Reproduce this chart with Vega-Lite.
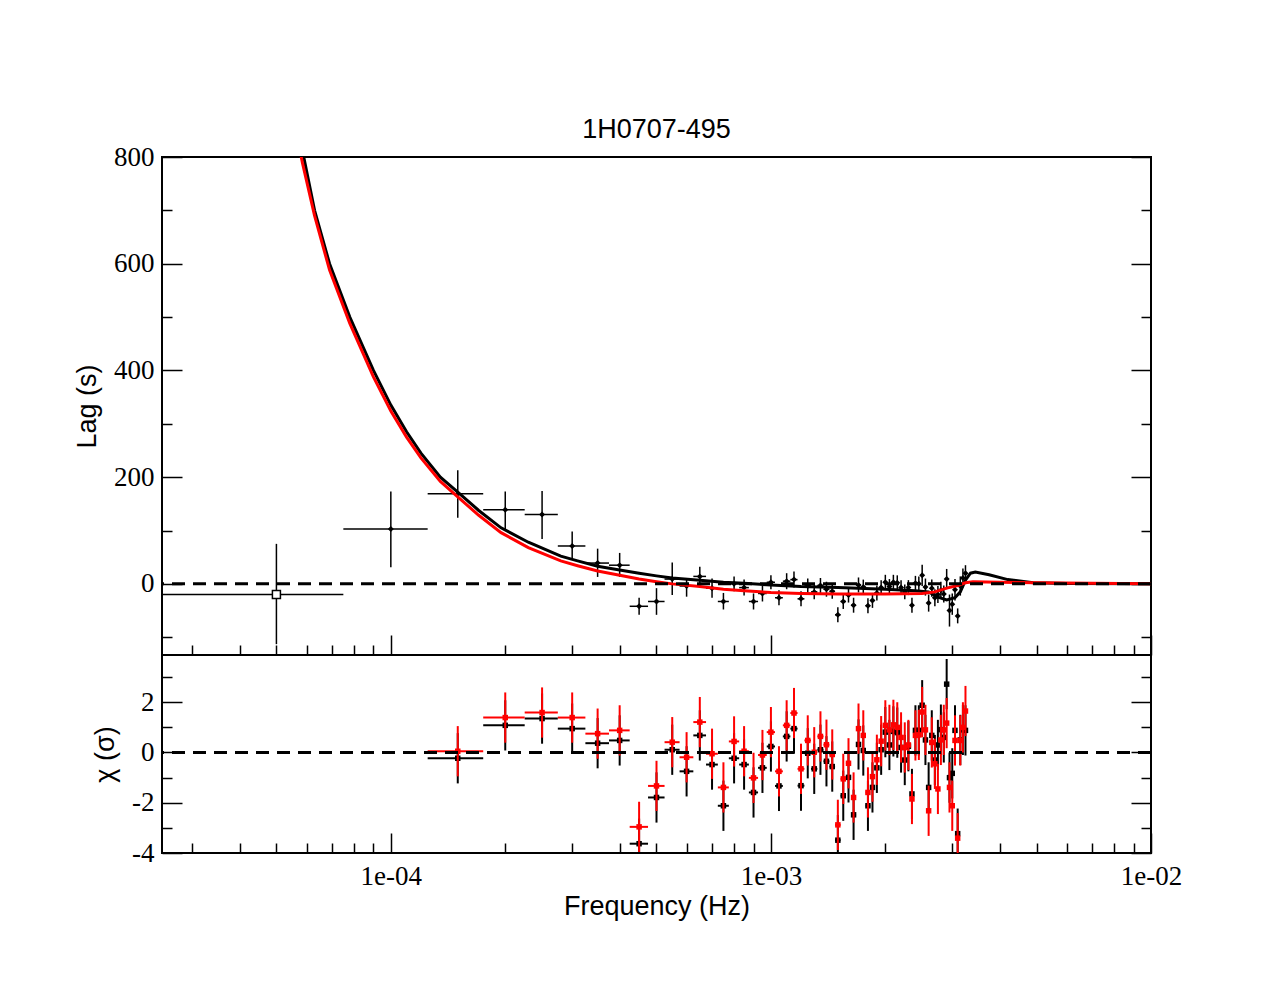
{
  "$schema": "https://vega.github.io/schema/vega-lite/v6.json",
  "background": "white",
  "padding": {"left": 72, "top": 116, "right": 97, "bottom": 60},
  "title": {"text": "1H0707-495", "font": "Liberation Sans", "fontSize": 27, "fontWeight": "normal", "color": "black", "offset": -2, "anchor": "middle", "frame": "group"},
  "spacing": 0,
  "bounds": "flush",
  "config": {
    "view": {"stroke": "black", "strokeWidth": 2},
    "axis": {"domain": false, "grid": false, "tickColor": "black", "tickWidth": 1.5, "labelColor": "black", "titleColor": "black", "labelFont": "Liberation Serif", "labelFontSize": 27, "titleFont": "Liberation Sans", "titleFontSize": 27, "titleFontWeight": "normal", "labelFlush": false, "labelOverlap": false, "labelBound": false}
  },
  "datasets": {
    "lag": [
      {"f":0.00005,"flo":0.000025,"fhi":0.000075,"lag":-20,"lo":-113,"hi":75},
      {"f":0.0001,"flo":0.000075,"fhi":0.000125,"lag":103,"lo":31,"hi":173},
      {"f":0.00015,"flo":0.000125,"fhi":0.000175,"lag":169,"lo":124,"hi":213},
      {"f":0.0002,"flo":0.000175,"fhi":0.000225,"lag":139,"lo":103,"hi":173},
      {"f":0.00025,"flo":0.000225,"fhi":0.000275,"lag":130,"lo":84,"hi":174},
      {"f":0.0003,"flo":0.000275,"fhi":0.000325,"lag":71,"lo":45,"hi":98},
      {"f":0.00035,"flo":0.000325,"fhi":0.000375,"lag":39,"lo":13,"hi":66},
      {"f":0.0004,"flo":0.000375,"fhi":0.000425,"lag":35,"lo":13,"hi":58},
      {"f":0.00045,"flo":0.000425,"fhi":0.000475,"lag":-42,"lo":-58,"hi":-26},
      {"f":0.0005,"flo":0.000475,"fhi":0.000525,"lag":-33,"lo":-58,"hi":-8},
      {"f":0.00055,"flo":0.000525,"fhi":0.000575,"lag":9,"lo":-21,"hi":40},
      {"f":0.0006,"flo":0.000575,"fhi":0.000625,"lag":-4,"lo":-24,"hi":10},
      {"f":0.00065,"flo":0.000625,"fhi":0.000675,"lag":14,"lo":-3,"hi":32},
      {"f":0.0007,"flo":0.000675,"fhi":0.000725,"lag":-8,"lo":-26,"hi":10},
      {"f":0.00075,"flo":0.000725,"fhi":0.000775,"lag":-33,"lo":-48,"hi":-17},
      {"f":0.0008,"flo":0.000775,"fhi":0.000825,"lag":0,"lo":-14,"hi":14},
      {"f":0.00085,"flo":0.000825,"fhi":0.000875,"lag":-7,"lo":-22,"hi":8},
      {"f":0.0009,"flo":0.000875,"fhi":0.000925,"lag":-33,"lo":-48,"hi":-18},
      {"f":0.00095,"flo":0.000925,"fhi":0.000975,"lag":-18,"lo":-33,"hi":-3},
      {"f":0.001,"flo":0.000975,"fhi":0.001025,"lag":3,"lo":-10,"hi":16},
      {"f":0.00105,"flo":0.001025,"fhi":0.001075,"lag":-26,"lo":-40,"hi":-12},
      {"f":0.0011,"flo":0.001075,"fhi":0.001125,"lag":5,"lo":-10,"hi":20},
      {"f":0.00115,"flo":0.001125,"fhi":0.001175,"lag":8,"lo":-7,"hi":23},
      {"f":0.0012,"flo":0.001175,"fhi":0.001225,"lag":-28,"lo":-42,"hi":-14},
      {"f":0.00125,"flo":0.001225,"fhi":0.001275,"lag":-4,"lo":-18,"hi":10},
      {"f":0.0013,"flo":0.001275,"fhi":0.001325,"lag":-15,"lo":-29,"hi":-1},
      {"f":0.00135,"flo":0.001325,"fhi":0.001375,"lag":-3,"lo":-17,"hi":11},
      {"f":0.0014,"flo":0.001375,"fhi":0.001425,"lag":-10,"lo":-24,"hi":4},
      {"f":0.00145,"flo":0.001425,"fhi":0.001475,"lag":-14,"lo":-28,"hi":0},
      {"f":0.0015,"flo":0.001475,"fhi":0.001525,"lag":-58,"lo":-72,"hi":-44},
      {"f":0.00155,"flo":0.001525,"fhi":0.001575,"lag":-33,"lo":-47,"hi":-19},
      {"f":0.0016,"flo":0.001575,"fhi":0.001625,"lag":-21,"lo":-35,"hi":-7},
      {"f":0.00165,"flo":0.001625,"fhi":0.001675,"lag":-40,"lo":-54,"hi":-26},
      {"f":0.0017,"flo":0.001675,"fhi":0.001725,"lag":-2,"lo":-16,"hi":12},
      {"f":0.00175,"flo":0.001725,"fhi":0.001775,"lag":-6,"lo":-20,"hi":8},
      {"f":0.0018,"flo":0.001775,"fhi":0.001825,"lag":-41,"lo":-55,"hi":-27},
      {"f":0.00185,"flo":0.001825,"fhi":0.001875,"lag":-31,"lo":-45,"hi":-17},
      {"f":0.0019,"flo":0.001875,"fhi":0.001925,"lag":-17,"lo":-31,"hi":-3},
      {"f":0.00195,"flo":0.001925,"fhi":0.001975,"lag":-7,"lo":-21,"hi":7},
      {"f":0.002,"flo":0.001975,"fhi":0.002025,"lag":3,"lo":-11,"hi":17},
      {"f":0.00205,"flo":0.002025,"fhi":0.002075,"lag":-5,"lo":-19,"hi":9},
      {"f":0.0021,"flo":0.002075,"fhi":0.002125,"lag":3,"lo":-11,"hi":17},
      {"f":0.00215,"flo":0.002125,"fhi":0.002175,"lag":2,"lo":-12,"hi":16},
      {"f":0.0022,"flo":0.002175,"fhi":0.002225,"lag":-7,"lo":-21,"hi":7},
      {"f":0.00225,"flo":0.002225,"fhi":0.002275,"lag":-15,"lo":-29,"hi":-1},
      {"f":0.0023,"flo":0.002275,"fhi":0.002325,"lag":-7,"lo":-21,"hi":7},
      {"f":0.00235,"flo":0.002325,"fhi":0.002375,"lag":-40,"lo":-54,"hi":-26},
      {"f":0.0024,"flo":0.002375,"fhi":0.002425,"lag":1,"lo":-13,"hi":15},
      {"f":0.00245,"flo":0.002425,"fhi":0.002475,"lag":0,"lo":-14,"hi":14},
      {"f":0.0025,"flo":0.002475,"fhi":0.002525,"lag":16,"lo":-4,"hi":36},
      {"f":0.00255,"flo":0.002525,"fhi":0.002575,"lag":-6,"lo":-22,"hi":10},
      {"f":0.0026,"flo":0.002575,"fhi":0.002625,"lag":-36,"lo":-52,"hi":-20},
      {"f":0.00265,"flo":0.002625,"fhi":0.002675,"lag":-8,"lo":-24,"hi":8},
      {"f":0.0027,"flo":0.002675,"fhi":0.002725,"lag":-26,"lo":-42,"hi":-10},
      {"f":0.00275,"flo":0.002725,"fhi":0.002775,"lag":-20,"lo":-36,"hi":-4},
      {"f":0.0028,"flo":0.002775,"fhi":0.002825,"lag":-12,"lo":-28,"hi":4},
      {"f":0.00285,"flo":0.002825,"fhi":0.002875,"lag":-19,"lo":-35,"hi":-3},
      {"f":0.0029,"flo":0.002875,"fhi":0.002925,"lag":9,"lo":-10,"hi":28},
      {"f":0.00295,"flo":0.002925,"fhi":0.002975,"lag":-50,"lo":-80,"hi":-20},
      {"f":0.003,"flo":0.002975,"fhi":0.003025,"lag":-38,"lo":-58,"hi":-18},
      {"f":0.00305,"flo":0.003025,"fhi":0.003075,"lag":-11,"lo":-31,"hi":9},
      {"f":0.0031,"flo":0.003075,"fhi":0.003125,"lag":-60,"lo":-74,"hi":-46},
      {"f":0.00315,"flo":0.003125,"fhi":0.003175,"lag":-4,"lo":-22,"hi":14},
      {"f":0.0032,"flo":0.003175,"fhi":0.003225,"lag":11,"lo":-7,"hi":29},
      {"f":0.00325,"flo":0.003225,"fhi":0.003275,"lag":20,"lo":5,"hi":35}
    ],
    "model": [
      {"f":0.0000575,"lag":840,"m":"k"},{"f":0.000059,"lag":800,"m":"k"},{"f":0.000063,"lag":700,"m":"k"},{"f":0.000069,"lag":600,"m":"k"},
      {"f":0.000078,"lag":500,"m":"k"},{"f":0.00009,"lag":400,"m":"k"},{"f":0.0001,"lag":335,"m":"k"},{"f":0.00011,"lag":285,"m":"k"},
      {"f":0.00012,"lag":245,"m":"k"},{"f":0.000135,"lag":200,"m":"k"},{"f":0.00015,"lag":172,"m":"k"},{"f":0.00017,"lag":138,"m":"k"},
      {"f":0.000195,"lag":105,"m":"k"},{"f":0.00023,"lag":78,"m":"k"},{"f":0.00028,"lag":52,"m":"k"},{"f":0.00031,"lag":43,"m":"k"},
      {"f":0.00035,"lag":33,"m":"k"},{"f":0.0004,"lag":26,"m":"k"},{"f":0.00045,"lag":20,"m":"k"},{"f":0.0005,"lag":15,"m":"k"},
      {"f":0.00055,"lag":11,"m":"k"},{"f":0.00065,"lag":7,"m":"k"},{"f":0.00075,"lag":3,"m":"k"},{"f":0.00085,"lag":1,"m":"k"},
      {"f":0.001,"lag":-2,"m":"k"},{"f":0.0012,"lag":-5,"m":"k"},{"f":0.0015,"lag":-7,"m":"k"},{"f":0.002,"lag":-10,"m":"k"},
      {"f":0.0024,"lag":-13,"m":"k"},{"f":0.0026,"lag":-15,"m":"k"},{"f":0.00275,"lag":-25,"m":"k"},{"f":0.0029,"lag":-30,"m":"k"},
      {"f":0.00305,"lag":-26,"m":"k"},{"f":0.00315,"lag":-15,"m":"k"},{"f":0.00325,"lag":7,"m":"k"},{"f":0.00335,"lag":20,"m":"k"},
      {"f":0.00345,"lag":22,"m":"k"},{"f":0.00375,"lag":17,"m":"k"},{"f":0.0042,"lag":8,"m":"k"},{"f":0.0049,"lag":2,"m":"k"},
      {"f":0.006,"lag":0.5,"m":"k"},{"f":0.01,"lag":0,"m":"k"},
      {"f":0.000057,"lag":830,"m":"r"},{"f":0.0000585,"lag":790,"m":"r"},{"f":0.000063,"lag":690,"m":"r"},{"f":0.000069,"lag":588,"m":"r"},
      {"f":0.000078,"lag":488,"m":"r"},{"f":0.00009,"lag":388,"m":"r"},{"f":0.0001,"lag":324,"m":"r"},{"f":0.00011,"lag":275,"m":"r"},
      {"f":0.00012,"lag":236,"m":"r"},{"f":0.000135,"lag":192,"m":"r"},{"f":0.00015,"lag":163,"m":"r"},{"f":0.00017,"lag":129,"m":"r"},
      {"f":0.000195,"lag":96,"m":"r"},{"f":0.00023,"lag":68,"m":"r"},{"f":0.00028,"lag":43,"m":"r"},{"f":0.00031,"lag":34,"m":"r"},
      {"f":0.00035,"lag":24,"m":"r"},{"f":0.0004,"lag":16,"m":"r"},{"f":0.00045,"lag":9,"m":"r"},{"f":0.0005,"lag":4,"m":"r"},
      {"f":0.00055,"lag":0,"m":"r"},{"f":0.00065,"lag":-5,"m":"r"},{"f":0.00075,"lag":-10,"m":"r"},{"f":0.00085,"lag":-13,"m":"r"},
      {"f":0.001,"lag":-16,"m":"r"},{"f":0.0012,"lag":-18,"m":"r"},{"f":0.0015,"lag":-19,"m":"r"},{"f":0.002,"lag":-19,"m":"r"},
      {"f":0.0025,"lag":-18,"m":"r"},{"f":0.0027,"lag":-15,"m":"r"},{"f":0.0029,"lag":-8,"m":"r"},{"f":0.0031,"lag":-3,"m":"r"},
      {"f":0.00325,"lag":2,"m":"r"},{"f":0.0034,"lag":4,"m":"r"},{"f":0.004,"lag":3,"m":"r"},{"f":0.005,"lag":2,"m":"r"},
      {"f":0.007,"lag":1,"m":"r"},{"f":0.01,"lag":0,"m":"r"}
    ],
    "resid": [
      {"f":0.00015,"flo":0.000125,"fhi":0.000175,"cb":-0.23,"cbl":-1.23,"cbh":0.77,"cr":0.05,"crl":-0.95,"crh":1.05},
      {"f":0.0002,"flo":0.000175,"fhi":0.000225,"cb":1.08,"cbl":0.08,"cbh":2.08,"cr":1.39,"crl":0.39,"crh":2.39},
      {"f":0.00025,"flo":0.000225,"fhi":0.000275,"cb":1.35,"cbl":0.35,"cbh":2.35,"cr":1.59,"crl":0.59,"crh":2.59},
      {"f":0.0003,"flo":0.000275,"fhi":0.000325,"cb":0.95,"cbl":-0.05,"cbh":1.95,"cr":1.39,"crl":0.39,"crh":2.39},
      {"f":0.00035,"flo":0.000325,"fhi":0.000375,"cb":0.37,"cbl":-0.63,"cbh":1.37,"cr":0.75,"crl":-0.25,"crh":1.75},
      {"f":0.0004,"flo":0.000375,"fhi":0.000425,"cb":0.48,"cbl":-0.52,"cbh":1.48,"cr":0.88,"crl":-0.12,"crh":1.88},
      {"f":0.00045,"flo":0.000425,"fhi":0.000475,"cb":-3.63,"cbl":-4.63,"cbh":-2.63,"cr":-2.96,"crl":-3.96,"crh":-1.96},
      {"f":0.0005,"flo":0.000475,"fhi":0.000525,"cb":-1.79,"cbl":-2.79,"cbh":-0.79,"cr":-1.33,"crl":-2.33,"crh":-0.33},
      {"f":0.00055,"flo":0.000525,"fhi":0.000575,"cb":0.11,"cbl":-0.89,"cbh":1.11,"cr":0.41,"crl":-0.59,"crh":1.41},
      {"f":0.0006,"flo":0.000575,"fhi":0.000625,"cb":-0.75,"cbl":-1.75,"cbh":0.25,"cr":-0.19,"crl":-1.19,"crh":0.81},
      {"f":0.00065,"flo":0.000625,"fhi":0.000675,"cb":0.68,"cbl":-0.32,"cbh":1.68,"cr":1.21,"crl":0.21,"crh":2.21},
      {"f":0.0007,"flo":0.000675,"fhi":0.000725,"cb":-0.48,"cbl":-1.48,"cbh":0.52,"cr":-0.05,"crl":-1.05,"crh":0.95},
      {"f":0.00075,"flo":0.000725,"fhi":0.000775,"cb":-2.12,"cbl":-3.12,"cbh":-1.12,"cr":-1.39,"crl":-2.39,"crh":-0.39},
      {"f":0.0008,"flo":0.000775,"fhi":0.000825,"cb":-0.23,"cbl":-1.23,"cbh":0.77,"cr":0.44,"crl":-0.56,"crh":1.44},
      {"f":0.00085,"flo":0.000825,"fhi":0.000875,"cb":-0.48,"cbl":-1.48,"cbh":0.52,"cr":0.05,"crl":-0.95,"crh":1.05},
      {"f":0.0009,"flo":0.000875,"fhi":0.000925,"cb":-1.59,"cbl":-2.59,"cbh":-0.59,"cr":-1.01,"crl":-2.01,"crh":-0.01},
      {"f":0.00095,"flo":0.000925,"fhi":0.000975,"cb":-0.61,"cbl":-1.61,"cbh":0.39,"cr":-0.1,"crl":-1.1,"crh":0.9},
      {"f":0.001,"flo":0.000975,"fhi":0.001025,"cb":0.24,"cbl":-0.76,"cbh":1.24,"cr":0.81,"crl":-0.19,"crh":1.81},
      {"f":0.00105,"flo":0.001025,"fhi":0.001075,"cb":-1.33,"cbl":-2.33,"cbh":-0.33,"cr":-0.75,"crl":-1.75,"crh":0.25},
      {"f":0.0011,"flo":0.001075,"fhi":0.001125,"cb":0.64,"cbl":-0.36,"cbh":1.64,"cr":1.08,"crl":0.08,"crh":2.08},
      {"f":0.00115,"flo":0.001125,"fhi":0.001175,"cb":0.95,"cbl":-0.05,"cbh":1.95,"cr":1.57,"crl":0.57,"crh":2.57},
      {"f":0.0012,"flo":0.001175,"fhi":0.001225,"cb":-1.32,"cbl":-2.32,"cbh":-0.32,"cr":-0.65,"crl":-1.65,"crh":0.35},
      {"f":0.00125,"flo":0.001225,"fhi":0.001275,"cb":-0.03,"cbl":-1.03,"cbh":0.97,"cr":0.48,"crl":-0.52,"crh":1.48},
      {"f":0.0013,"flo":0.001275,"fhi":0.001325,"cb":-0.65,"cbl":-1.65,"cbh":0.35,"cr":0.01,"crl":-0.99,"crh":1.01},
      {"f":0.00135,"flo":0.001325,"fhi":0.001375,"cb":0.11,"cbl":-0.89,"cbh":1.11,"cr":0.64,"crl":-0.36,"crh":1.64},
      {"f":0.0014,"flo":0.001375,"fhi":0.001425,"cb":-0.35,"cbl":-1.35,"cbh":0.65,"cr":0.31,"crl":-0.69,"crh":1.31},
      {"f":0.00145,"flo":0.001425,"fhi":0.001475,"cb":-0.56,"cbl":-1.56,"cbh":0.44,"cr":-0.08,"crl":-1.08,"crh":0.92},
      {"f":0.0015,"flo":0.001475,"fhi":0.001525,"cb":-3.49,"cbl":-4.49,"cbh":-2.49,"cr":-2.88,"crl":-3.88,"crh":-1.88},
      {"f":0.00155,"flo":0.001525,"fhi":0.001575,"cb":-1.72,"cbl":-2.72,"cbh":-0.72,"cr":-1.05,"crl":-2.05,"crh":-0.05},
      {"f":0.0016,"flo":0.001575,"fhi":0.001625,"cb":-0.99,"cbl":-1.99,"cbh":0.01,"cr":-0.43,"crl":-1.43,"crh":0.57},
      {"f":0.00165,"flo":0.001625,"fhi":0.001675,"cb":-2.48,"cbl":-3.48,"cbh":-1.48,"cr":-1.79,"crl":-2.79,"crh":-0.79},
      {"f":0.0017,"flo":0.001675,"fhi":0.001725,"cb":0.32,"cbl":-0.68,"cbh":1.32,"cr":0.95,"crl":-0.05,"crh":1.95},
      {"f":0.00175,"flo":0.001725,"fhi":0.001775,"cb":0.08,"cbl":-0.92,"cbh":1.08,"cr":0.68,"crl":-0.32,"crh":1.68},
      {"f":0.0018,"flo":0.001775,"fhi":0.001825,"cb":-2.12,"cbl":-3.12,"cbh":-1.12,"cr":-1.59,"crl":-2.59,"crh":-0.59},
      {"f":0.00185,"flo":0.001825,"fhi":0.001875,"cb":-1.39,"cbl":-2.39,"cbh":-0.39,"cr":-0.96,"crl":-1.96,"crh":0.04},
      {"f":0.0019,"flo":0.001875,"fhi":0.001925,"cb":-0.61,"cbl":-1.61,"cbh":0.39,"cr":-0.29,"crl":-1.29,"crh":0.71},
      {"f":0.00195,"flo":0.001925,"fhi":0.001975,"cb":0.11,"cbl":-0.89,"cbh":1.11,"cr":0.45,"crl":-0.55,"crh":1.45},
      {"f":0.002,"flo":0.001975,"fhi":0.002025,"cb":0.81,"cbl":-0.19,"cbh":1.81,"cr":1.08,"crl":0.08,"crh":2.08},
      {"f":0.00205,"flo":0.002025,"fhi":0.002075,"cb":0.3,"cbl":-0.7,"cbh":1.3,"cr":0.9,"crl":-0.1,"crh":1.9},
      {"f":0.0021,"flo":0.002075,"fhi":0.002125,"cb":0.84,"cbl":-0.16,"cbh":1.84,"cr":1.1,"crl":0.1,"crh":2.1},
      {"f":0.00215,"flo":0.002125,"fhi":0.002175,"cb":0.79,"cbl":-0.21,"cbh":1.79,"cr":1.0,"crl":0.0,"crh":2.0},
      {"f":0.0022,"flo":0.002175,"fhi":0.002225,"cb":0.2,"cbl":-0.8,"cbh":1.2,"cr":0.6,"crl":-0.4,"crh":1.6},
      {"f":0.00225,"flo":0.002225,"fhi":0.002275,"cb":-0.3,"cbl":-1.3,"cbh":0.7,"cr":0.2,"crl":-0.8,"crh":1.2},
      {"f":0.0023,"flo":0.002275,"fhi":0.002325,"cb":0.25,"cbl":-0.75,"cbh":1.25,"cr":0.3,"crl":-0.7,"crh":1.3},
      {"f":0.00235,"flo":0.002325,"fhi":0.002375,"cb":-1.65,"cbl":-2.65,"cbh":-0.65,"cr":-1.85,"crl":-2.85,"crh":-0.85},
      {"f":0.0024,"flo":0.002375,"fhi":0.002425,"cb":0.88,"cbl":-0.12,"cbh":1.88,"cr":0.68,"crl":-0.32,"crh":1.68},
      {"f":0.00245,"flo":0.002425,"fhi":0.002475,"cb":0.88,"cbl":-0.12,"cbh":1.88,"cr":0.7,"crl":-0.3,"crh":1.7},
      {"f":0.0025,"flo":0.002475,"fhi":0.002525,"cb":1.88,"cbl":0.88,"cbh":2.88,"cr":1.61,"crl":0.61,"crh":2.61},
      {"f":0.00255,"flo":0.002525,"fhi":0.002575,"cb":0.5,"cbl":-0.5,"cbh":1.5,"cr":0.9,"crl":-0.1,"crh":1.9},
      {"f":0.0026,"flo":0.002575,"fhi":0.002625,"cb":-1.39,"cbl":-2.39,"cbh":-0.39,"cr":-2.32,"crl":-3.32,"crh":-1.32},
      {"f":0.00265,"flo":0.002625,"fhi":0.002675,"cb":0.68,"cbl":-0.32,"cbh":1.68,"cr":0.4,"crl":-0.6,"crh":1.4},
      {"f":0.0027,"flo":0.002675,"fhi":0.002725,"cb":-0.3,"cbl":-1.3,"cbh":0.7,"cr":-0.45,"crl":-1.45,"crh":0.55},
      {"f":0.00275,"flo":0.002725,"fhi":0.002775,"cb":0.3,"cbl":-0.7,"cbh":1.3,"cr":-1.45,"crl":-2.45,"crh":-0.45},
      {"f":0.0028,"flo":0.002775,"fhi":0.002825,"cb":0.91,"cbl":-0.09,"cbh":1.91,"cr":0.5,"crl":-0.5,"crh":1.5},
      {"f":0.00285,"flo":0.002825,"fhi":0.002875,"cb":0.6,"cbl":-0.4,"cbh":1.6,"cr":0.9,"crl":-0.1,"crh":1.9},
      {"f":0.0029,"flo":0.002875,"fhi":0.002925,"cb":2.72,"cbl":1.72,"cbh":3.72,"cr":1.17,"crl":0.17,"crh":2.17},
      {"f":0.00295,"flo":0.002925,"fhi":0.002975,"cb":-1.0,"cbl":-2.0,"cbh":0.0,"cr":-1.39,"crl":-2.39,"crh":-0.39},
      {"f":0.003,"flo":0.002975,"fhi":0.003025,"cb":-0.83,"cbl":-1.83,"cbh":0.17,"cr":-2.12,"crl":-3.12,"crh":-1.12},
      {"f":0.00305,"flo":0.003025,"fhi":0.003075,"cb":0.88,"cbl":-0.12,"cbh":1.88,"cr":0.48,"crl":-0.52,"crh":1.48},
      {"f":0.0031,"flo":0.003075,"fhi":0.003125,"cb":-3.23,"cbl":-4.23,"cbh":-2.23,"cr":-3.41,"crl":-4.41,"crh":-2.41},
      {"f":0.00315,"flo":0.003125,"fhi":0.003175,"cb":0.5,"cbl":-0.5,"cbh":1.5,"cr":0.48,"crl":-0.52,"crh":1.48},
      {"f":0.0032,"flo":0.003175,"fhi":0.003225,"cb":0.9,"cbl":-0.1,"cbh":1.9,"cr":1.0,"crl":0.0,"crh":2.0},
      {"f":0.00325,"flo":0.003225,"fhi":0.003275,"cb":0.88,"cbl":-0.12,"cbh":1.88,"cr":1.65,"crl":0.65,"crh":2.65}
    ]
  },
  "vconcat": [
    {
      "width": 989,
      "height": 498,
      "resolve": {"axis": {"x": "independent", "y": "independent"}},
      "layer": [
        {
          "data": {"name": "lag"},
          "mark": {"type": "rule", "color": "black", "strokeWidth": 1.5, "clip": true},
          "encoding": {
            "x": {"field": "flo", "type": "quantitative", "scale": {"type": "log", "domain": [0.000025, 0.01], "nice": false},
              "axis": {"orient": "bottom", "values": [0.00003,0.00004,0.00005,0.00006,0.00007,0.00008,0.00009,0.0001,0.0002,0.0003,0.0004,0.0005,0.0006,0.0007,0.0008,0.0009,0.001,0.002,0.003,0.004,0.005,0.006,0.007,0.008,0.009,0.01],
                "labels": false, "title": null,
                "tickSize": {"condition": {"test": "datum.value == 0.0001 || datum.value == 0.001 || datum.value == 0.01", "value": -20}, "value": -10}}},
            "x2": {"field": "fhi"},
            "y": {"field": "lag", "type": "quantitative", "scale": {"domain": [-133.3, 800], "nice": false, "zero": false},
              "axis": {"orient": "left", "values": [-100,0,100,200,300,400,500,600,700,800], "title": "Lag (s)", "titlePadding": 12,
                "labelExpr": "datum.value % 200 == 0 ? '' + datum.value : ''", "labelPadding": 28,
                "tickSize": {"condition": {"test": "datum.value % 200 == 0", "value": -20}, "value": -10}}}
          }
        },
        {
          "data": {"name": "lag"},
          "mark": {"type": "rule", "color": "black", "strokeWidth": 1.5, "clip": true},
          "encoding": {
            "x": {"field": "f", "type": "quantitative", "scale": {"type": "log", "domain": [0.000025, 0.01], "nice": false}, "axis": null},
            "y": {"field": "lo", "type": "quantitative", "scale": {"domain": [-133.3, 800], "nice": false, "zero": false},
              "axis": {"orient": "right", "values": [-100,0,100,200,300,400,500,600,700,800], "title": null, "labels": false,
                "tickSize": {"condition": {"test": "datum.value % 200 == 0", "value": -20}, "value": -10}}},
            "y2": {"field": "hi"}
          }
        },
        {
          "data": {"name": "lag"},
          "transform": [{"filter": "datum.f > 0.00007"}],
          "mark": {"type": "point", "shape": "diamond", "filled": true, "color": "black", "size": 36, "opacity": 1},
          "encoding": {
            "x": {"field": "f", "type": "quantitative", "axis": null},
            "y": {"field": "lag", "type": "quantitative", "axis": null}
          }
        },
        {
          "data": {"name": "lag"},
          "transform": [{"filter": "datum.f < 0.00007"}],
          "mark": {"type": "point", "shape": "square", "filled": true, "fill": "white", "stroke": "black", "strokeWidth": 1.5, "size": 64, "opacity": 1},
          "encoding": {
            "x": {"field": "f", "type": "quantitative", "axis": null},
            "y": {"field": "lag", "type": "quantitative", "axis": null}
          }
        },
        {
          "data": {"name": "model"},
          "transform": [{"filter": "datum.m == 'k'"}],
          "mark": {"type": "line", "color": "black", "strokeWidth": 3, "clip": true},
          "encoding": {
            "x": {"field": "f", "type": "quantitative", "axis": null},
            "y": {"field": "lag", "type": "quantitative", "axis": null}
          }
        },
        {
          "data": {"name": "model"},
          "transform": [{"filter": "datum.m == 'r'"}],
          "mark": {"type": "line", "color": "#ff0000", "strokeWidth": 3, "clip": true},
          "encoding": {
            "x": {"field": "f", "type": "quantitative", "axis": null},
            "y": {"field": "lag", "type": "quantitative", "axis": null}
          }
        },
        {
          "data": {"values": [{"z": 0}]},
          "mark": {"type": "rule", "color": "black", "strokeWidth": 3, "strokeDash": [13, 8]},
          "encoding": {
            "y": {"field": "z", "type": "quantitative", "axis": null}
          }
        }
      ]
    },
    {
      "width": 989,
      "height": 198,
      "resolve": {"axis": {"x": "independent", "y": "independent"}},
      "layer": [
        {
          "data": {"name": "resid"},
          "mark": {"type": "rule", "color": "black", "strokeWidth": 2, "clip": true},
          "encoding": {
            "x": {"field": "flo", "type": "quantitative", "scale": {"type": "log", "domain": [0.000025, 0.01], "nice": false},
              "axis": {"orient": "bottom", "values": [0.00003,0.00004,0.00005,0.00006,0.00007,0.00008,0.00009,0.0001,0.0002,0.0003,0.0004,0.0005,0.0006,0.0007,0.0008,0.0009,0.001,0.002,0.003,0.004,0.005,0.006,0.007,0.008,0.009,0.01],
                "title": "Frequency (Hz)", "titlePadding": -6,
                "labelExpr": "datum.value == 0.0001 ? '1e-04' : datum.value == 0.001 ? '1e-03' : datum.value == 0.01 ? '1e-02' : ''",
                "labelPadding": 30,
                "tickSize": {"condition": {"test": "datum.value == 0.0001 || datum.value == 0.001 || datum.value == 0.01", "value": -20}, "value": -10}}},
            "x2": {"field": "fhi"},
            "y": {"field": "cb", "type": "quantitative", "scale": {"domain": [-4, 3.88], "nice": false, "zero": false},
              "axis": {"orient": "left", "values": [-4,-3,-2,-1,0,1,2,3], "title": "χ (σ)", "titlePadding": 12,
                "labelExpr": "datum.value % 2 == 0 ? '' + datum.value : ''", "labelPadding": 28,
                "tickSize": {"condition": {"test": "datum.value % 2 == 0", "value": -20}, "value": -10}}}
          }
        },
        {
          "data": {"name": "resid"},
          "mark": {"type": "rule", "color": "black", "strokeWidth": 2, "clip": true},
          "encoding": {
            "x": {"field": "f", "type": "quantitative", "scale": {"type": "log", "domain": [0.000025, 0.01], "nice": false}, "axis": null},
            "y": {"field": "cbl", "type": "quantitative", "scale": {"domain": [-4, 3.88], "nice": false, "zero": false},
              "axis": {"orient": "right", "values": [-4,-3,-2,-1,0,1,2,3], "title": null, "labels": false,
                "tickSize": {"condition": {"test": "datum.value % 2 == 0", "value": -20}, "value": -10}}},
            "y2": {"field": "cbh"}
          }
        },
        {
          "data": {"name": "resid"},
          "mark": {"type": "point", "shape": "square", "filled": true, "color": "black", "size": 30, "opacity": 1, "clip": true},
          "encoding": {
            "x": {"field": "f", "type": "quantitative", "axis": null},
            "y": {"field": "cb", "type": "quantitative", "axis": null}
          }
        },
        {
          "data": {"name": "resid"},
          "mark": {"type": "rule", "color": "#ff0000", "strokeWidth": 2, "clip": true},
          "encoding": {
            "x": {"field": "flo", "type": "quantitative", "axis": null},
            "x2": {"field": "fhi"},
            "y": {"field": "cr", "type": "quantitative", "axis": null}
          }
        },
        {
          "data": {"name": "resid"},
          "mark": {"type": "rule", "color": "#ff0000", "strokeWidth": 2, "clip": true},
          "encoding": {
            "x": {"field": "f", "type": "quantitative", "axis": null},
            "y": {"field": "crl", "type": "quantitative", "axis": null},
            "y2": {"field": "crh"}
          }
        },
        {
          "data": {"name": "resid"},
          "mark": {"type": "point", "shape": "square", "filled": true, "color": "#ff0000", "size": 30, "opacity": 1, "clip": true},
          "encoding": {
            "x": {"field": "f", "type": "quantitative", "axis": null},
            "y": {"field": "cr", "type": "quantitative", "axis": null}
          }
        },
        {
          "data": {"values": [{"z": 0}]},
          "mark": {"type": "rule", "color": "black", "strokeWidth": 3, "strokeDash": [13, 8]},
          "encoding": {
            "y": {"field": "z", "type": "quantitative", "axis": null}
          }
        }
      ]
    }
  ]
}
